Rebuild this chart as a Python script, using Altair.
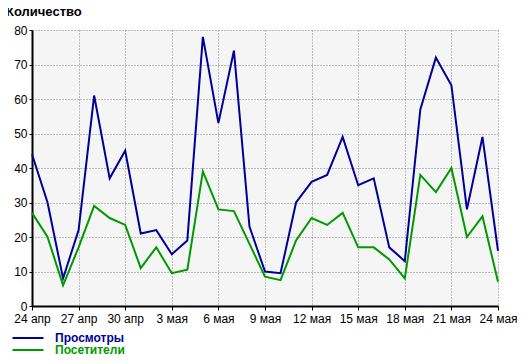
import json
import altair as alt
import pandas as pd

days = list(range(31))
tick_labels = ["24 апр", "27 апр", "30 апр", "3 мая", "6 мая", "9 мая",
               "12 мая", "15 мая", "18 мая", "21 мая", "24 мая"]
series_names = ["Просмотры", "Посетители"]
series_colors = ["#000099", "#009900"]
views = [44, 30, 8, 22, 61, 37, 45,
         21, 22, 15, 19, 78, 53, 74, 23, 10, 9.5,
         30, 36, 38, 49, 35, 37, 17, 13, 57, 72, 64, 28, 49, 16]
visitors = [27, 20, 6, 17, 29, 25.5, 23.5,
            11, 17, 9.5, 10.5, 39, 28, 27.5, 18, 8.5, 7.5,
            19, 25.5, 23.5, 27, 17, 17, 13.5, 8, 38, 33, 40, 20, 26, 7]

rows = []
for d, v in zip(days, views):
    rows.append({"day": d, "value": v, "series": series_names[0]})
for d, v in zip(days, visitors):
    rows.append({"day": d, "value": v, "series": series_names[1]})
df = pd.DataFrame(rows)

FONT = "Liberation Sans"
label_expr = json.dumps(tick_labels, ensure_ascii=False) + "[datum.value / 3]"

chart = alt.Chart(df).mark_line(strokeWidth=2).encode(
    x=alt.X("day:Q",
            scale=alt.Scale(domain=[0, 30], nice=False, zero=False),
            axis=alt.Axis(values=list(range(0, 31, 3)), labelExpr=label_expr,
                          title=None, grid=True, gridColor="#808080",
                          gridDash=[1, 2], gridWidth=1,
                          domainColor="#000000", domainWidth=2,
                          tickColor="#000000", tickSize=4, tickWidth=1,
                          labelFont=FONT, labelFontSize=12, labelColor="#000000",
                          labelPadding=3, labelFlush=False, labelOverlap=False)),
    y=alt.Y("value:Q",
            scale=alt.Scale(domain=[0, 80], nice=False),
            axis=alt.Axis(values=list(range(0, 81, 10)), title=None,
                          grid=True, gridColor="#808080", gridDash=[1, 2],
                          gridWidth=1, domainColor="#000000", domainWidth=2,
                          tickColor="#000000", tickSize=3, tickWidth=1,
                          labelFont=FONT, labelFontSize=12, labelColor="#000000",
                          labelPadding=2)),
    color=alt.Color("series:N",
                    scale=alt.Scale(domain=series_names, range=series_colors),
                    sort=series_names,
                    legend=alt.Legend(
                        title=None, orient="none", legendX=-10, legendY=302,
                        direction="vertical", symbolType="M-3.1,0H3.1",
                        symbolSize=100, symbolStrokeWidth=2, labelOffset=21,
                        labelFont=FONT, labelFontSize=12, labelFontWeight="bold",
                        labelColor={"expr": "datum.label == 'Просмотры' ? '#000099' : '#009900'"},
                        rowPadding=0, padding=0)),
).properties(
    width=466, height=276,
    padding={"left": 24, "top": 22, "right": 21, "bottom": 49},
    autosize=alt.AutoSizeParams(type="none"),
    title=alt.TitleParams(text="Количество", anchor="start", frame="group",
                          dx=-26, dy=17, offset=12, baseline="alphabetic",
                          font=FONT, fontSize=13, fontWeight="bold",
                          color="#000000"),
).configure_view(fill="#f5f5f5", stroke=None)

chart.save("out.html", embed_options={"renderer": "svg", "actions": False})
